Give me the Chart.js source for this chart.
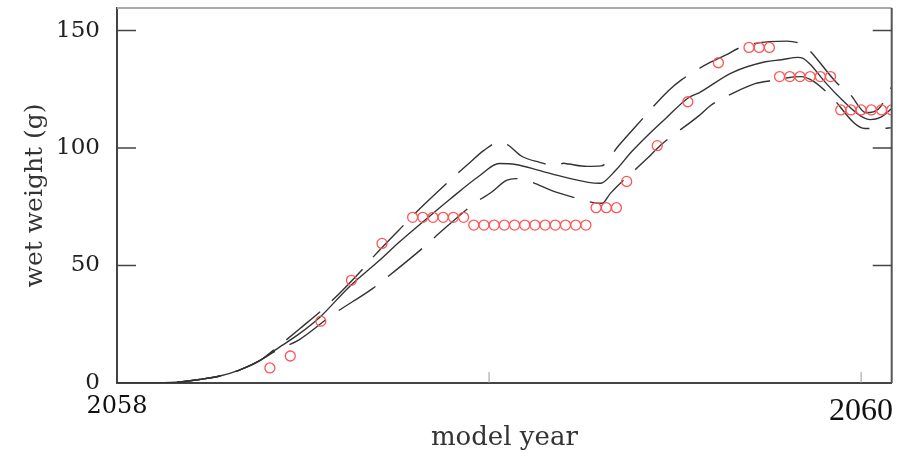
<!DOCTYPE html>
<html>
<head>
<meta charset="utf-8">
<script src="https://cdn.jsdelivr.net/npm/chart.js@4/dist/chart.umd.min.js"></script>
<style>
    body { margin: 0; background: #fff; }
    canvas { display: block; }
</style>
</head>
<body>
<canvas id="weightChart" width="898" height="454"></canvas>
<script>
// days since start of 2058
const obsDay = [150, 170, 200, 230, 260,
    290, 300, 310, 320, 330, 340,
    350, 360, 370, 380, 390, 400, 410, 420, 430, 440, 450, 460,
    470, 480, 490, 500, 530, 560, 590,
    620, 630, 640,
    650, 660, 670, 680, 690, 700,
    710, 720, 730, 740, 750, 760];
const obsWeight = [6.4, 11.5, 26.3, 43.7, 59.4,
    70.5, 70.5, 70.5, 70.5, 70.5, 70.5,
    67.2, 67.2, 67.2, 67.2, 67.2, 67.2, 67.2, 67.2, 67.2, 67.2, 67.2, 67.2,
    74.6, 74.6, 74.6, 85.8, 101, 119.7, 136.3,
    142.8, 142.8, 142.8,
    130.4, 130.4, 130.4, 130.4, 130.4, 130.4,
    116.2, 116.2, 116.2, 116.2, 116.2, 116.2];

const midDay = [0, 32, 62, 81, 101, 120, 140, 155, 179, 199, 228, 257, 277, 304, 326, 355, 375, 391, 414, 440,
    473, 476, 489, 505, 522, 538, 561, 571, 603, 636, 652, 668, 673, 680, 696, 712, 729, 739, 749, 760];
const midWeight = [0, 0.1, 0.5, 1.5, 3, 5.5, 9.5, 14, 21, 28, 41, 52, 60, 70, 78, 88, 93.4, 93, 90.5, 87.5,
    85, 85.2, 90.4, 98.5, 106, 112.5, 121.5, 123.5, 132, 136.7, 137.6, 138.6, 138.2, 135.7, 127.4, 120.2, 113.8, 112.1, 113, 116.8];

const upperDay = [0, 32, 62, 81, 101, 120, 140, 155, 179, 206, 240, 251, 284, 299, 331, 344, 360, 375, 383, 397,
    414, 431, 438, 443, 461, 475, 492, 509, 541, 554, 580, 597, 610, 626, 657, 668, 675, 706, 719, 735, 747, 760];
const upperWeight = [0, 0.1, 0.5, 1.5, 3, 5.5, 9.5, 14.5, 23, 33, 48, 53.5, 68.4, 75, 88, 93, 99, 102.5, 101.5, 96.5,
    94, 92.4, 93.5, 93.2, 92.2, 92.4, 101, 109.3, 124.4, 129.1, 136, 139.5, 142.5, 144.5, 145.5, 144.8, 143.3, 127.8, 123, 115, 116.6, 126];

const lowerDay = [0, 32, 62, 81, 101, 120, 140, 155, 179, 211, 251, 265, 303, 316, 352, 367, 382, 391, 407, 426,
    448, 466, 476, 484, 520, 533, 571, 582, 605, 626, 642, 671, 683, 698, 734, 750, 760];
const lowerWeight = [0, 0.1, 0.5, 1.5, 3, 5.5, 9.5, 13.5, 18.5, 28.9, 40.3, 45, 58.6, 63.7, 76.9, 81.1, 86.2, 87, 85.4, 82,
    79, 76.9, 76.5, 80.7, 95.5, 101.1, 113.8, 118, 123.5, 127.4, 128.7, 130.4, 128.5, 123.1, 108.3, 108.3, 108.7];

const yearTicks = [0, 365, 730];
const yearLabels = ['2058', '', '2060'];
const weightTicks = [0, 50, 100, 150];

function toPoints(xs, ys) {
    return xs.map((x, i) => ({ x: x, y: ys[i] }));
}

const lineStyle = {
    showLine: true,
    pointRadius: 0,
    borderColor: '#333',
    borderWidth: 1.4,
    cubicInterpolationMode: 'monotone',
    fill: false
};

// frame (top/right) and inward tick marks
const frameTicks = {
    id: 'frameTicks',
    afterDraw(chart) {
        const { ctx, chartArea: a, scales } = chart;
        ctx.save();
        ctx.lineWidth = 2;
        ctx.strokeStyle = '#aaa';
        ctx.beginPath();
        ctx.moveTo(a.left, a.top);
        ctx.lineTo(a.right, a.top);
        ctx.stroke();
        ctx.strokeStyle = '#555';
        ctx.beginPath();
        ctx.moveTo(a.right, a.top);
        ctx.lineTo(a.right, a.bottom);
        ctx.stroke();

        ctx.lineWidth = 1.5;
        ctx.strokeStyle = '#444';
        weightTicks.slice(1).forEach(v => {
            const py = scales.y.getPixelForValue(v);
            ctx.beginPath();
            ctx.moveTo(a.left, py);
            ctx.lineTo(a.left + 19, py);
            ctx.moveTo(a.right, py);
            ctx.lineTo(a.right - 19, py);
            ctx.stroke();
        });
        ctx.lineWidth = 1;
        ctx.strokeStyle = '#999';
        yearTicks.slice(1).forEach(v => {
            const px = scales.x.getPixelForValue(v);
            ctx.beginPath();
            ctx.moveTo(px, a.bottom);
            ctx.lineTo(px, a.bottom - 11);
            ctx.stroke();
        });
        ctx.restore();
    }
};

new Chart(document.getElementById('weightChart').getContext('2d'), {
    type: 'scatter',
    data: {
        datasets: [
            {
                data: toPoints(obsDay, obsWeight),
                pointRadius: 5,
                pointBorderWidth: 1.3,
                pointBorderColor: '#ff5555',
                pointBackgroundColor: 'rgba(0,0,0,0)',
                showLine: false
            },
            Object.assign({ data: toPoints(midDay, midWeight) }, lineStyle),
            Object.assign({ data: toPoints(upperDay, upperWeight), borderDash: [44, 16] }, lineStyle),
            Object.assign({ data: toPoints(lowerDay, lowerWeight), borderDash: [44, 16] }, lineStyle)
        ]
    },
    options: {
        responsive: false,
        animation: false,
        devicePixelRatio: 1,
        layout: { padding: { top: 8, right: 4, left: 0, bottom: 0 } },
        plugins: {
            legend: { display: false },
            tooltip: { enabled: false }
        },
        scales: {
            x: {
                type: 'linear',
                min: 0,
                max: 760,
                afterFit: scale => {
                    scale.height = 71;
                    scale.paddingLeft = 0;
                    scale.paddingRight = 0;
                },
                afterBuildTicks: scale => {
                    scale.ticks = yearTicks.map(v => ({ value: v }));
                },
                grid: { display: false, drawTicks: false },
                border: { display: true, color: '#444', width: 2 },
                ticks: {
                    autoSkip: false,
                    maxRotation: 0,
                    padding: 9,
                    color: '#111',
                    font: ctx => ctx.index === 2
                        ? { family: 'Liberation Serif', size: 32 }
                        : { family: 'DejaVu Serif', size: 24 },
                    callback: (v, i) => yearLabels[i]
                },
                title: {
                    display: true,
                    text: 'model year',
                    color: '#333',
                    font: { family: 'DejaVu Serif', size: 26 },
                    padding: { top: 0, bottom: 0 }
                }
            },
            y: {
                min: 0,
                max: 159.6,
                afterFit: scale => {
                    scale.width = 117;
                    scale.paddingTop = 0;
                    scale.paddingBottom = 0;
                },
                afterBuildTicks: scale => {
                    scale.ticks = weightTicks.map(v => ({ value: v }));
                },
                grid: { display: false, drawTicks: false },
                border: { display: true, color: '#444', width: 2 },
                ticks: {
                    padding: 17,
                    color: '#222',
                    font: { family: 'DejaVu Serif', size: 23 }
                },
                title: {
                    display: true,
                    text: 'wet weight (g)',
                    color: '#333',
                    font: { family: 'DejaVu Serif', size: 25 },
                    padding: { top: 20, bottom: 0 }
                }
            }
        }
    },
    plugins: [frameTicks]
});
</script>
</body>
</html>
